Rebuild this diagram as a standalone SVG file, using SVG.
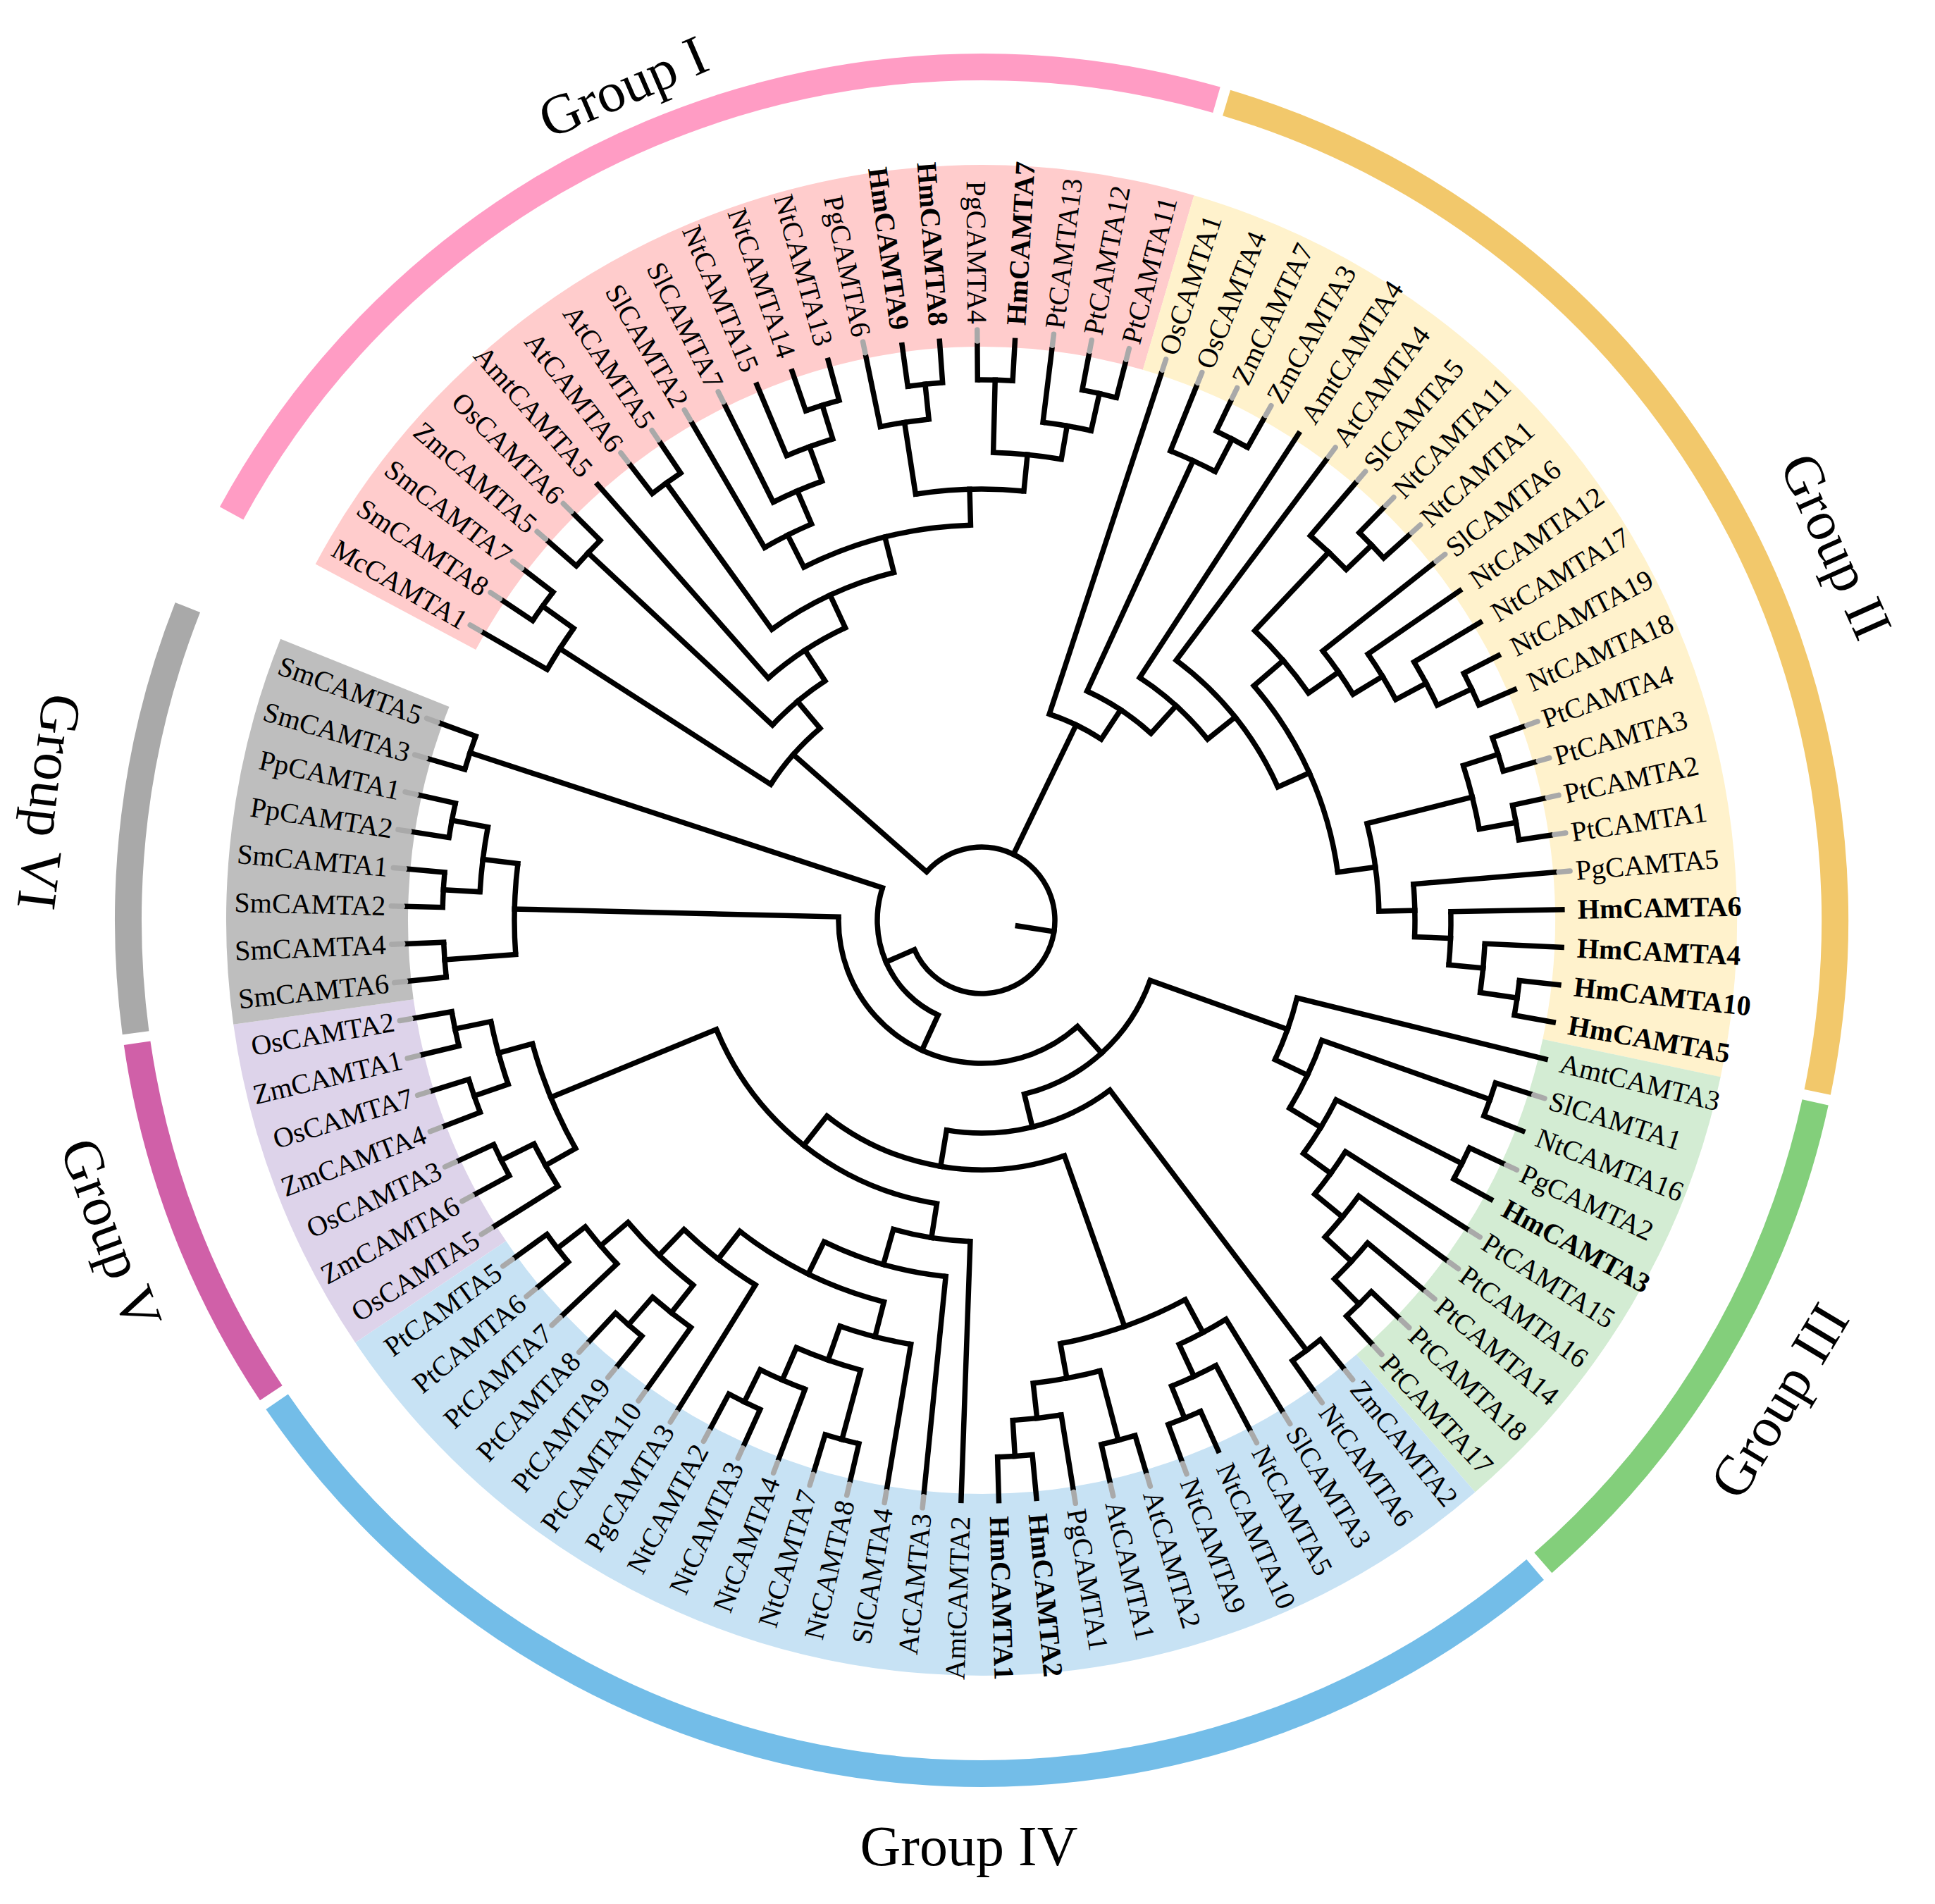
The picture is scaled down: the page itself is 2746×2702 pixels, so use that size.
<svg xmlns="http://www.w3.org/2000/svg" width="2746" height="2702" viewBox="0 0 2746 2702">
<style>
.b{stroke:#000;stroke-width:7.5;fill:none}
.b line{stroke-linecap:square}
.g line{stroke:#a9a9a9;stroke-width:7.5;stroke-linecap:round}
.rg{fill:none;stroke-width:258}
.ring{fill:none;stroke-width:38}
#labels text{font-family:"Liberation Serif","Times New Roman",serif;font-size:40px;dominant-baseline:central;fill:#000}
#labels .fl{text-anchor:end}
#labels .hm{font-weight:bold}
.grp{font-family:"Liberation Serif","Times New Roman",serif;font-size:80px;text-anchor:middle;dominant-baseline:central;fill:#000}
</style>
<rect width="2746" height="2702" fill="#fff"/>
<g id="ranges" transform="translate(1393,1306)">
<circle class="rg" r="943" pathLength="360" stroke="#ffcccc" stroke-dasharray="78.192 400" transform="rotate(208.138)"/>
<circle class="rg" r="943" pathLength="360" stroke="#fff2cc" stroke-dasharray="85.638 400" transform="rotate(286.330)"/>
<circle class="rg" r="943" pathLength="360" stroke="#d3ecd3" stroke-dasharray="37.234 400" transform="rotate(371.968)"/>
<circle class="rg" r="943" pathLength="360" stroke="#c7e2f4" stroke-dasharray="96.809 400" transform="rotate(409.202)"/>
<circle class="rg" r="943" pathLength="360" stroke="#ddd3ea" stroke-dasharray="26.064 400" transform="rotate(506.011)"/>
<circle class="rg" r="943" pathLength="360" stroke="#bebebe" stroke-dasharray="29.787 400" transform="rotate(532.075)"/>
</g>
<g id="group-rings" transform="translate(1393,1306)">
<circle class="ring" r="1211" pathLength="360" stroke="#ff9cc4" stroke-dasharray="77.492 400" transform="rotate(208.488)"/>
<circle class="ring" r="1211" pathLength="360" stroke="#f2c86b" stroke-dasharray="84.938 400" transform="rotate(286.680)"/>
<circle class="ring" r="1211" pathLength="360" stroke="#83cf7b" stroke-dasharray="36.534 400" transform="rotate(372.318)"/>
<circle class="ring" r="1211" pathLength="360" stroke="#73bde8" stroke-dasharray="96.109 400" transform="rotate(409.552)"/>
<circle class="ring" r="1211" pathLength="360" stroke="#d060a8" stroke-dasharray="25.364 400" transform="rotate(506.361)"/>
<circle class="ring" r="1211" pathLength="360" stroke="#a9a9a9" stroke-dasharray="29.087 400" transform="rotate(532.425)"/>
</g>
<g id="connectors" class="b" transform="translate(1393,1306)">
<circle r="104" pathLength="360" stroke-dasharray="295.032 400" transform="rotate(221.360)"/>
<circle r="148" pathLength="360" stroke-dasharray="83.493 400" transform="rotate(474.645)"/>
<circle r="203" pathLength="360" stroke-dasharray="133.477 400" transform="rotate(407.906)"/>
<circle r="254" pathLength="360" stroke-dasharray="56.575 400" transform="rotate(379.619)"/>
<circle r="302" pathLength="360" stroke-dasharray="46.535 400" transform="rotate(412.926)"/>
<circle r="354" pathLength="360" stroke-dasharray="57.698 400" transform="rotate(430.612)"/>
<circle r="407" pathLength="360" stroke-dasharray="58.672 400" transform="rotate(458.974)"/>
<circle r="456" pathLength="360" stroke-dasharray="13.906 400" transform="rotate(452.021)"/>
<circle r="508" pathLength="360" stroke-dasharray="20.363 400" transform="rotate(455.745)"/>
<circle r="559" pathLength="360" stroke-dasharray="23.505 400" transform="rotate(464.355)"/>
<circle r="610" pathLength="360" stroke-dasharray="9.774 400" transform="rotate(459.468)"/>
<circle r="661" pathLength="360" stroke-dasharray="8.378 400" transform="rotate(465.053)"/>
<circle r="763" pathLength="360" stroke-dasharray="3.724 400" transform="rotate(463.191)"/>
<circle r="711" pathLength="360" stroke-dasharray="5.586 400" transform="rotate(470.638)"/>
<circle r="762" pathLength="360" stroke-dasharray="3.723 400" transform="rotate(474.362)"/>
<circle r="609" pathLength="360" stroke-dasharray="12.101 400" transform="rotate(481.809)"/>
<circle r="660" pathLength="360" stroke-dasharray="11.170 400" transform="rotate(488.325)"/>
<circle r="710" pathLength="360" stroke-dasharray="5.585 400" transform="rotate(485.532)"/>
<circle r="762" pathLength="360" stroke-dasharray="3.724 400" transform="rotate(489.255)"/>
<circle r="711" pathLength="360" stroke-dasharray="5.586 400" transform="rotate(496.702)"/>
<circle r="761" pathLength="360" stroke-dasharray="3.723 400" transform="rotate(500.426)"/>
<circle r="661" pathLength="360" stroke-dasharray="13.963 400" transform="rotate(510.665)"/>
<circle r="710" pathLength="360" stroke-dasharray="5.585 400" transform="rotate(507.872)"/>
<circle r="762" pathLength="360" stroke-dasharray="3.723 400" transform="rotate(511.596)"/>
<circle r="711" pathLength="360" stroke-dasharray="7.447 400" transform="rotate(520.904)"/>
<circle r="762" pathLength="360" stroke-dasharray="3.723 400" transform="rotate(519.043)"/>
<circle r="763" pathLength="360" stroke-dasharray="3.724 400" transform="rotate(526.489)"/>
<circle r="611" pathLength="360" stroke-dasharray="17.686 400" transform="rotate(421.769)"/>
<circle r="664" pathLength="360" stroke-dasharray="6.516 400" transform="rotate(418.511)"/>
<circle r="714" pathLength="360" stroke-dasharray="5.585 400" transform="rotate(422.234)"/>
<circle r="763" pathLength="360" stroke-dasharray="3.724 400" transform="rotate(425.957)"/>
<circle r="661" pathLength="360" stroke-dasharray="8.378 400" transform="rotate(435.266)"/>
<circle r="763" pathLength="360" stroke-dasharray="3.724 400" transform="rotate(433.404)"/>
<circle r="711" pathLength="360" stroke-dasharray="5.585 400" transform="rotate(440.851)"/>
<circle r="762" pathLength="360" stroke-dasharray="3.724 400" transform="rotate(444.574)"/>
<circle r="765" pathLength="360" stroke-dasharray="3.723 400" transform="rotate(411.064)"/>
<circle r="461" pathLength="360" stroke-dasharray="11.578 400" transform="rotate(373.830)"/>
<circle r="512" pathLength="360" stroke-dasharray="11.985 400" transform="rotate(379.415)"/>
<circle r="765" pathLength="360" stroke-dasharray="3.724 400" transform="rotate(377.553)"/>
<circle r="564" pathLength="360" stroke-dasharray="9.076 400" transform="rotate(386.862)"/>
<circle r="764" pathLength="360" stroke-dasharray="3.723 400" transform="rotate(385.000)"/>
<circle r="612" pathLength="360" stroke-dasharray="6.981 400" transform="rotate(392.447)"/>
<circle r="663" pathLength="360" stroke-dasharray="6.516 400" transform="rotate(396.170)"/>
<circle r="714" pathLength="360" stroke-dasharray="5.585 400" transform="rotate(399.894)"/>
<circle r="764" pathLength="360" stroke-dasharray="3.723 400" transform="rotate(403.617)"/>
<circle r="663" pathLength="360" stroke-dasharray="11.170 400" transform="rotate(535.798)"/>
<circle r="764" pathLength="360" stroke-dasharray="3.724 400" transform="rotate(533.936)"/>
<circle r="713" pathLength="360" stroke-dasharray="7.446 400" transform="rotate(543.245)"/>
<circle r="765" pathLength="360" stroke-dasharray="3.723 400" transform="rotate(541.383)"/>
<circle r="765" pathLength="360" stroke-dasharray="3.723 400" transform="rotate(548.830)"/>
<circle r="764" pathLength="360" stroke-dasharray="3.723 400" transform="rotate(556.277)"/>
<circle r="356" pathLength="360" stroke-dasharray="17.133 400" transform="rotate(212.793)"/>
<circle r="712" pathLength="360" stroke-dasharray="5.585 400" transform="rotate(210.000)"/>
<circle r="766" pathLength="360" stroke-dasharray="3.724 400" transform="rotate(213.723)"/>
<circle r="406" pathLength="360" stroke-dasharray="13.788 400" transform="rotate(223.032)"/>
<circle r="764" pathLength="360" stroke-dasharray="3.724 400" transform="rotate(221.170)"/>
<circle r="458" pathLength="360" stroke-dasharray="16.407 400" transform="rotate(228.617)"/>
<circle r="509" pathLength="360" stroke-dasharray="21.643 400" transform="rotate(234.202)"/>
<circle r="765" pathLength="360" stroke-dasharray="3.724 400" transform="rotate(232.340)"/>
<circle r="561" pathLength="360" stroke-dasharray="25.133 400" transform="rotate(243.278)"/>
<circle r="612" pathLength="360" stroke-dasharray="6.982 400" transform="rotate(239.787)"/>
<circle r="663" pathLength="360" stroke-dasharray="6.516 400" transform="rotate(243.511)"/>
<circle r="715" pathLength="360" stroke-dasharray="5.585 400" transform="rotate(247.234)"/>
<circle r="765" pathLength="360" stroke-dasharray="3.724 400" transform="rotate(250.957)"/>
<circle r="612" pathLength="360" stroke-dasharray="14.428 400" transform="rotate(261.197)"/>
<circle r="715" pathLength="360" stroke-dasharray="5.586 400" transform="rotate(258.404)"/>
<circle r="765" pathLength="360" stroke-dasharray="3.723 400" transform="rotate(262.128)"/>
<circle r="664" pathLength="360" stroke-dasharray="8.378 400" transform="rotate(271.436)"/>
<circle r="767" pathLength="360" stroke-dasharray="3.724 400" transform="rotate(269.574)"/>
<circle r="712" pathLength="360" stroke-dasharray="5.586 400" transform="rotate(277.021)"/>
<circle r="766" pathLength="360" stroke-dasharray="3.723 400" transform="rotate(280.745)"/>
<circle r="308" pathLength="360" stroke-dasharray="15.258 400" transform="rotate(288.191)"/>
<circle r="358" pathLength="360" stroke-dasharray="17.483 400" transform="rotate(294.707)"/>
<circle r="718" pathLength="360" stroke-dasharray="5.585 400" transform="rotate(291.915)"/>
<circle r="770" pathLength="360" stroke-dasharray="3.724 400" transform="rotate(295.638)"/>
<circle r="411" pathLength="360" stroke-dasharray="18.210 400" transform="rotate(303.085)"/>
<circle r="461" pathLength="360" stroke-dasharray="28.972 400" transform="rotate(306.809)"/>
<circle r="510" pathLength="360" stroke-dasharray="33.045 400" transform="rotate(319.259)"/>
<circle r="565" pathLength="360" stroke-dasharray="11.868 400" transform="rotate(313.325)"/>
<circle r="718" pathLength="360" stroke-dasharray="5.585 400" transform="rotate(310.532)"/>
<circle r="768" pathLength="360" stroke-dasharray="3.724 400" transform="rotate(314.255)"/>
<circle r="617" pathLength="360" stroke-dasharray="6.982 400" transform="rotate(321.702)"/>
<circle r="666" pathLength="360" stroke-dasharray="6.516 400" transform="rotate(325.426)"/>
<circle r="715" pathLength="360" stroke-dasharray="5.585 400" transform="rotate(329.149)"/>
<circle r="769" pathLength="360" stroke-dasharray="3.724 400" transform="rotate(332.872)"/>
<circle r="564" pathLength="360" stroke-dasharray="12.799 400" transform="rotate(345.904)"/>
<circle r="718" pathLength="360" stroke-dasharray="7.447 400" transform="rotate(342.181)"/>
<circle r="770" pathLength="360" stroke-dasharray="3.724 400" transform="rotate(340.319)"/>
<circle r="771" pathLength="360" stroke-dasharray="3.723 400" transform="rotate(347.766)"/>
<circle r="615" pathLength="360" stroke-dasharray="6.981 400" transform="rotate(355.213)"/>
<circle r="666" pathLength="360" stroke-dasharray="6.516 400" transform="rotate(358.936)"/>
<circle r="715" pathLength="360" stroke-dasharray="5.585 400" transform="rotate(362.660)"/>
<circle r="768" pathLength="360" stroke-dasharray="3.723 400" transform="rotate(366.383)"/>
<line x1="52" x2="104" transform="rotate(368.876)"/>
<line x1="104" x2="356" transform="rotate(221.360)"/>
<line x1="104" x2="308" transform="rotate(295.820)"/>
<line x1="104" x2="148" transform="rotate(516.392)"/>
<line x1="148" x2="203" transform="rotate(474.645)"/>
<line x1="148" x2="764" transform="rotate(558.138)"/>
<line x1="203" x2="254" transform="rotate(407.906)"/>
<line x1="203" x2="663" transform="rotate(541.383)"/>
<line x1="254" x2="461" transform="rotate(379.619)"/>
<line x1="254" x2="302" transform="rotate(436.194)"/>
<line x1="302" x2="765" transform="rotate(412.926)"/>
<line x1="302" x2="354" transform="rotate(459.461)"/>
<line x1="354" x2="611" transform="rotate(430.612)"/>
<line x1="354" x2="407" transform="rotate(488.310)"/>
<line x1="407" x2="456" transform="rotate(458.974)"/>
<line x1="407" x2="661" transform="rotate(517.646)"/>
<line x1="456" x2="508" transform="rotate(465.927)"/>
<line x1="508" x2="559" transform="rotate(476.108)"/>
<line x1="559" x2="610" transform="rotate(464.355)"/>
<line x1="559" x2="609" transform="rotate(487.860)"/>
<line x1="610" x2="661" transform="rotate(469.242)"/>
<line x1="661" x2="763" transform="rotate(465.053)"/>
<line x1="661" x2="711" transform="rotate(473.431)"/>
<line x1="711" x2="762" transform="rotate(476.224)"/>
<line x1="609" x2="660" transform="rotate(493.910)"/>
<line x1="660" x2="710" transform="rotate(488.325)"/>
<line x1="660" x2="711" transform="rotate(499.495)"/>
<line x1="710" x2="762" transform="rotate(491.117)"/>
<line x1="711" x2="761" transform="rotate(502.288)"/>
<line x1="661" x2="710" transform="rotate(510.665)"/>
<line x1="661" x2="711" transform="rotate(524.628)"/>
<line x1="710" x2="762" transform="rotate(513.457)"/>
<line x1="711" x2="762" transform="rotate(520.904)"/>
<line x1="711" x2="763" transform="rotate(528.351)"/>
<line x1="611" x2="664" transform="rotate(421.769)"/>
<line x1="611" x2="661" transform="rotate(439.455)"/>
<line x1="664" x2="714" transform="rotate(425.027)"/>
<line x1="714" x2="763" transform="rotate(427.819)"/>
<line x1="661" x2="763" transform="rotate(435.266)"/>
<line x1="661" x2="711" transform="rotate(443.644)"/>
<line x1="711" x2="762" transform="rotate(446.436)"/>
<line x1="461" x2="512" transform="rotate(385.408)"/>
<line x1="512" x2="765" transform="rotate(379.415)"/>
<line x1="512" x2="564" transform="rotate(391.400)"/>
<line x1="564" x2="764" transform="rotate(386.862)"/>
<line x1="564" x2="612" transform="rotate(395.938)"/>
<line x1="612" x2="663" transform="rotate(399.428)"/>
<line x1="663" x2="714" transform="rotate(402.686)"/>
<line x1="714" x2="764" transform="rotate(405.479)"/>
<line x1="663" x2="764" transform="rotate(535.798)"/>
<line x1="663" x2="713" transform="rotate(546.968)"/>
<line x1="713" x2="765" transform="rotate(543.245)"/>
<line x1="713" x2="765" transform="rotate(550.691)"/>
<line x1="356" x2="712" transform="rotate(212.793)"/>
<line x1="356" x2="406" transform="rotate(229.926)"/>
<line x1="712" x2="766" transform="rotate(215.585)"/>
<line x1="406" x2="764" transform="rotate(223.032)"/>
<line x1="406" x2="458" transform="rotate(236.820)"/>
<line x1="458" x2="509" transform="rotate(245.024)"/>
<line x1="509" x2="765" transform="rotate(234.202)"/>
<line x1="509" x2="561" transform="rotate(255.845)"/>
<line x1="561" x2="612" transform="rotate(243.278)"/>
<line x1="561" x2="612" transform="rotate(268.411)"/>
<line x1="612" x2="663" transform="rotate(246.769)"/>
<line x1="663" x2="715" transform="rotate(250.027)"/>
<line x1="715" x2="765" transform="rotate(252.819)"/>
<line x1="612" x2="715" transform="rotate(261.197)"/>
<line x1="612" x2="664" transform="rotate(275.625)"/>
<line x1="715" x2="765" transform="rotate(263.990)"/>
<line x1="664" x2="767" transform="rotate(271.436)"/>
<line x1="664" x2="712" transform="rotate(279.814)"/>
<line x1="712" x2="766" transform="rotate(282.607)"/>
<line x1="308" x2="358" transform="rotate(303.449)"/>
<line x1="358" x2="718" transform="rotate(294.707)"/>
<line x1="358" x2="411" transform="rotate(312.190)"/>
<line x1="718" x2="770" transform="rotate(297.500)"/>
<line x1="411" x2="461" transform="rotate(321.295)"/>
<line x1="461" x2="510" transform="rotate(335.781)"/>
<line x1="510" x2="565" transform="rotate(319.259)"/>
<line x1="510" x2="564" transform="rotate(352.304)"/>
<line x1="565" x2="718" transform="rotate(313.325)"/>
<line x1="565" x2="617" transform="rotate(325.193)"/>
<line x1="718" x2="768" transform="rotate(316.117)"/>
<line x1="617" x2="666" transform="rotate(328.684)"/>
<line x1="666" x2="715" transform="rotate(331.942)"/>
<line x1="715" x2="769" transform="rotate(334.734)"/>
<line x1="564" x2="718" transform="rotate(345.904)"/>
<line x1="564" x2="615" transform="rotate(358.703)"/>
<line x1="718" x2="770" transform="rotate(342.181)"/>
<line x1="718" x2="771" transform="rotate(349.628)"/>
<line x1="615" x2="666" transform="rotate(362.194)"/>
<line x1="666" x2="715" transform="rotate(365.452)"/>
<line x1="715" x2="768" transform="rotate(368.245)"/>
<g id="leaf-branches">
<line x1="712" x2="816" transform="rotate(210.000)"/>
<line x1="766" x2="816" transform="rotate(213.723)"/>
<line x1="766" x2="816" transform="rotate(217.447)"/>
<line x1="764" x2="816" transform="rotate(221.170)"/>
<line x1="764" x2="816" transform="rotate(224.894)"/>
<line x1="458" x2="824" transform="rotate(228.617)"/>
<line x1="765" x2="816" transform="rotate(232.340)"/>
<line x1="765" x2="816" transform="rotate(236.064)"/>
<line x1="612" x2="816" transform="rotate(239.787)"/>
<line x1="663" x2="816" transform="rotate(243.511)"/>
<line x1="715" x2="824" transform="rotate(247.234)"/>
<line x1="765" x2="824" transform="rotate(250.957)"/>
<line x1="765" x2="824" transform="rotate(254.681)"/>
<line x1="715" x2="816" transform="rotate(258.404)"/>
<line x1="765" x2="824" transform="rotate(262.128)"/>
<line x1="765" x2="824" transform="rotate(265.851)"/>
<line x1="767" x2="816" transform="rotate(269.574)"/>
<line x1="767" x2="824" transform="rotate(273.298)"/>
<line x1="712" x2="816" transform="rotate(277.021)"/>
<line x1="766" x2="816" transform="rotate(280.745)"/>
<line x1="766" x2="816" transform="rotate(284.468)"/>
<line x1="308" x2="816" transform="rotate(288.191)"/>
<line x1="718" x2="816" transform="rotate(291.915)"/>
<line x1="770" x2="816" transform="rotate(295.638)"/>
<line x1="770" x2="816" transform="rotate(299.362)"/>
<line x1="411" x2="824" transform="rotate(303.085)"/>
<line x1="461" x2="816" transform="rotate(306.809)"/>
<line x1="718" x2="816" transform="rotate(310.532)"/>
<line x1="768" x2="816" transform="rotate(314.255)"/>
<line x1="768" x2="816" transform="rotate(317.979)"/>
<line x1="617" x2="816" transform="rotate(321.702)"/>
<line x1="666" x2="824" transform="rotate(325.426)"/>
<line x1="715" x2="824" transform="rotate(329.149)"/>
<line x1="769" x2="824" transform="rotate(332.872)"/>
<line x1="769" x2="824" transform="rotate(336.596)"/>
<line x1="770" x2="816" transform="rotate(340.319)"/>
<line x1="770" x2="816" transform="rotate(344.043)"/>
<line x1="771" x2="816" transform="rotate(347.766)"/>
<line x1="771" x2="816" transform="rotate(351.489)"/>
<line x1="615" x2="816" transform="rotate(355.213)"/>
<line x1="666" x2="824" transform="rotate(358.936)"/>
<line x1="715" x2="824" transform="rotate(362.660)"/>
<line x1="768" x2="824" transform="rotate(366.383)"/>
<line x1="768" x2="824" transform="rotate(370.106)"/>
<line x1="461" x2="824" transform="rotate(373.830)"/>
<line x1="765" x2="816" transform="rotate(377.553)"/>
<line x1="765" x2="824" transform="rotate(381.277)"/>
<line x1="764" x2="816" transform="rotate(385.000)"/>
<line x1="764" x2="824" transform="rotate(388.723)"/>
<line x1="612" x2="816" transform="rotate(392.447)"/>
<line x1="663" x2="816" transform="rotate(396.170)"/>
<line x1="714" x2="816" transform="rotate(399.894)"/>
<line x1="764" x2="816" transform="rotate(403.617)"/>
<line x1="764" x2="816" transform="rotate(407.340)"/>
<line x1="765" x2="816" transform="rotate(411.064)"/>
<line x1="765" x2="816" transform="rotate(414.787)"/>
<line x1="664" x2="816" transform="rotate(418.511)"/>
<line x1="714" x2="816" transform="rotate(422.234)"/>
<line x1="763" x2="824" transform="rotate(425.957)"/>
<line x1="763" x2="816" transform="rotate(429.681)"/>
<line x1="763" x2="816" transform="rotate(433.404)"/>
<line x1="763" x2="816" transform="rotate(437.128)"/>
<line x1="711" x2="816" transform="rotate(440.851)"/>
<line x1="762" x2="824" transform="rotate(444.574)"/>
<line x1="762" x2="824" transform="rotate(448.298)"/>
<line x1="456" x2="824" transform="rotate(452.021)"/>
<line x1="508" x2="816" transform="rotate(455.745)"/>
<line x1="610" x2="816" transform="rotate(459.468)"/>
<line x1="763" x2="816" transform="rotate(463.191)"/>
<line x1="763" x2="816" transform="rotate(466.915)"/>
<line x1="711" x2="816" transform="rotate(470.638)"/>
<line x1="762" x2="816" transform="rotate(474.362)"/>
<line x1="762" x2="816" transform="rotate(478.085)"/>
<line x1="609" x2="816" transform="rotate(481.809)"/>
<line x1="710" x2="816" transform="rotate(485.532)"/>
<line x1="762" x2="816" transform="rotate(489.255)"/>
<line x1="762" x2="816" transform="rotate(492.979)"/>
<line x1="711" x2="816" transform="rotate(496.702)"/>
<line x1="761" x2="816" transform="rotate(500.426)"/>
<line x1="761" x2="816" transform="rotate(504.149)"/>
<line x1="710" x2="816" transform="rotate(507.872)"/>
<line x1="762" x2="816" transform="rotate(511.596)"/>
<line x1="762" x2="816" transform="rotate(515.319)"/>
<line x1="762" x2="816" transform="rotate(519.043)"/>
<line x1="762" x2="816" transform="rotate(522.766)"/>
<line x1="763" x2="816" transform="rotate(526.489)"/>
<line x1="763" x2="816" transform="rotate(530.213)"/>
<line x1="764" x2="816" transform="rotate(533.936)"/>
<line x1="764" x2="816" transform="rotate(537.660)"/>
<line x1="765" x2="816" transform="rotate(541.383)"/>
<line x1="765" x2="816" transform="rotate(545.106)"/>
<line x1="765" x2="816" transform="rotate(548.830)"/>
<line x1="765" x2="816" transform="rotate(552.553)"/>
<line x1="764" x2="816" transform="rotate(556.277)"/>
<line x1="764" x2="816" transform="rotate(560.000)"/>
</g>
<g class="g" id="label-leaders">
<line x1="822" x2="838" transform="rotate(210.000)"/>
<line x1="822" x2="838" transform="rotate(213.723)"/>
<line x1="822" x2="838" transform="rotate(217.447)"/>
<line x1="822" x2="838" transform="rotate(221.170)"/>
<line x1="822" x2="838" transform="rotate(224.894)"/>
<line x1="822" x2="838" transform="rotate(232.340)"/>
<line x1="822" x2="838" transform="rotate(236.064)"/>
<line x1="822" x2="838" transform="rotate(239.787)"/>
<line x1="822" x2="838" transform="rotate(243.511)"/>
<line x1="822" x2="838" transform="rotate(258.404)"/>
<line x1="822" x2="838" transform="rotate(269.574)"/>
<line x1="822" x2="838" transform="rotate(277.021)"/>
<line x1="822" x2="838" transform="rotate(280.745)"/>
<line x1="822" x2="838" transform="rotate(284.468)"/>
<line x1="822" x2="838" transform="rotate(288.191)"/>
<line x1="822" x2="838" transform="rotate(291.915)"/>
<line x1="822" x2="838" transform="rotate(295.638)"/>
<line x1="822" x2="838" transform="rotate(299.362)"/>
<line x1="822" x2="838" transform="rotate(306.809)"/>
<line x1="822" x2="838" transform="rotate(310.532)"/>
<line x1="822" x2="838" transform="rotate(314.255)"/>
<line x1="822" x2="838" transform="rotate(317.979)"/>
<line x1="822" x2="838" transform="rotate(321.702)"/>
<line x1="822" x2="838" transform="rotate(340.319)"/>
<line x1="822" x2="838" transform="rotate(344.043)"/>
<line x1="822" x2="838" transform="rotate(347.766)"/>
<line x1="822" x2="838" transform="rotate(351.489)"/>
<line x1="822" x2="838" transform="rotate(355.213)"/>
<line x1="822" x2="838" transform="rotate(377.553)"/>
<line x1="822" x2="838" transform="rotate(385.000)"/>
<line x1="822" x2="838" transform="rotate(392.447)"/>
<line x1="822" x2="838" transform="rotate(396.170)"/>
<line x1="822" x2="838" transform="rotate(399.894)"/>
<line x1="822" x2="838" transform="rotate(403.617)"/>
<line x1="822" x2="838" transform="rotate(407.340)"/>
<line x1="822" x2="838" transform="rotate(411.064)"/>
<line x1="822" x2="838" transform="rotate(414.787)"/>
<line x1="822" x2="838" transform="rotate(418.511)"/>
<line x1="822" x2="838" transform="rotate(422.234)"/>
<line x1="822" x2="838" transform="rotate(429.681)"/>
<line x1="822" x2="838" transform="rotate(433.404)"/>
<line x1="822" x2="838" transform="rotate(437.128)"/>
<line x1="822" x2="838" transform="rotate(440.851)"/>
<line x1="822" x2="838" transform="rotate(455.745)"/>
<line x1="822" x2="838" transform="rotate(459.468)"/>
<line x1="822" x2="838" transform="rotate(463.191)"/>
<line x1="822" x2="838" transform="rotate(466.915)"/>
<line x1="822" x2="838" transform="rotate(470.638)"/>
<line x1="822" x2="838" transform="rotate(474.362)"/>
<line x1="822" x2="838" transform="rotate(478.085)"/>
<line x1="822" x2="838" transform="rotate(481.809)"/>
<line x1="822" x2="838" transform="rotate(485.532)"/>
<line x1="822" x2="838" transform="rotate(489.255)"/>
<line x1="822" x2="838" transform="rotate(492.979)"/>
<line x1="822" x2="838" transform="rotate(496.702)"/>
<line x1="822" x2="838" transform="rotate(500.426)"/>
<line x1="822" x2="838" transform="rotate(504.149)"/>
<line x1="822" x2="838" transform="rotate(507.872)"/>
<line x1="822" x2="838" transform="rotate(511.596)"/>
<line x1="822" x2="838" transform="rotate(515.319)"/>
<line x1="822" x2="838" transform="rotate(519.043)"/>
<line x1="822" x2="838" transform="rotate(522.766)"/>
<line x1="822" x2="838" transform="rotate(526.489)"/>
<line x1="822" x2="838" transform="rotate(530.213)"/>
<line x1="822" x2="838" transform="rotate(533.936)"/>
<line x1="822" x2="838" transform="rotate(537.660)"/>
<line x1="822" x2="838" transform="rotate(541.383)"/>
<line x1="822" x2="838" transform="rotate(545.106)"/>
<line x1="822" x2="838" transform="rotate(548.830)"/>
<line x1="822" x2="838" transform="rotate(552.553)"/>
<line x1="822" x2="838" transform="rotate(556.277)"/>
<line x1="822" x2="838" transform="rotate(560.000)"/>
</g>
</g>
<g id="labels" transform="translate(1393,1306)">
<g id="McCAMTA1" transform="rotate(210.000)"><text class="fl" x="-846" transform="rotate(180)">McCAMTA1</text></g>
<g id="SmCAMTA8" transform="rotate(213.723)"><text class="fl" x="-846" transform="rotate(180)">SmCAMTA8</text></g>
<g id="SmCAMTA7" transform="rotate(217.447)"><text class="fl" x="-846" transform="rotate(180)">SmCAMTA7</text></g>
<g id="ZmCAMTA5" transform="rotate(221.170)"><text class="fl" x="-846" transform="rotate(180)">ZmCAMTA5</text></g>
<g id="OsCAMTA6" transform="rotate(224.894)"><text class="fl" x="-846" transform="rotate(180)">OsCAMTA6</text></g>
<g id="AmtCAMTA5" transform="rotate(228.617)"><text class="fl" x="-846" transform="rotate(180)">AmtCAMTA5</text></g>
<g id="AtCAMTA6" transform="rotate(232.340)"><text class="fl" x="-846" transform="rotate(180)">AtCAMTA6</text></g>
<g id="AtCAMTA5" transform="rotate(236.064)"><text class="fl" x="-846" transform="rotate(180)">AtCAMTA5</text></g>
<g id="SlCAMTA2" transform="rotate(239.787)"><text class="fl" x="-846" transform="rotate(180)">SlCAMTA2</text></g>
<g id="SlCAMTA7" transform="rotate(243.511)"><text class="fl" x="-846" transform="rotate(180)">SlCAMTA7</text></g>
<g id="NtCAMTA15" transform="rotate(247.234)"><text class="fl" x="-846" transform="rotate(180)">NtCAMTA15</text></g>
<g id="NtCAMTA14" transform="rotate(250.957)"><text class="fl" x="-846" transform="rotate(180)">NtCAMTA14</text></g>
<g id="NtCAMTA13" transform="rotate(254.681)"><text class="fl" x="-846" transform="rotate(180)">NtCAMTA13</text></g>
<g id="PgCAMTA6" transform="rotate(258.404)"><text class="fl" x="-846" transform="rotate(180)">PgCAMTA6</text></g>
<g id="HmCAMTA9" transform="rotate(262.128)"><text class="fl hm" x="-846" transform="rotate(180)">HmCAMTA9</text></g>
<g id="HmCAMTA8" transform="rotate(265.851)"><text class="fl hm" x="-846" transform="rotate(180)">HmCAMTA8</text></g>
<g id="PgCAMTA4" transform="rotate(269.574)"><text class="fl" x="-846" transform="rotate(180)">PgCAMTA4</text></g>
<g id="HmCAMTA7" transform="rotate(273.298)"><text class="hm" x="846">HmCAMTA7</text></g>
<g id="PtCAMTA13" transform="rotate(277.021)"><text x="846">PtCAMTA13</text></g>
<g id="PtCAMTA12" transform="rotate(280.745)"><text x="846">PtCAMTA12</text></g>
<g id="PtCAMTA11" transform="rotate(284.468)"><text x="846">PtCAMTA11</text></g>
<g id="OsCAMTA1" transform="rotate(288.191)"><text x="846">OsCAMTA1</text></g>
<g id="OsCAMTA4" transform="rotate(291.915)"><text x="846">OsCAMTA4</text></g>
<g id="ZmCAMTA7" transform="rotate(295.638)"><text x="846">ZmCAMTA7</text></g>
<g id="ZmCAMTA3" transform="rotate(299.362)"><text x="846">ZmCAMTA3</text></g>
<g id="AmtCAMTA4" transform="rotate(303.085)"><text x="846">AmtCAMTA4</text></g>
<g id="AtCAMTA4" transform="rotate(306.809)"><text x="846">AtCAMTA4</text></g>
<g id="SlCAMTA5" transform="rotate(310.532)"><text x="846">SlCAMTA5</text></g>
<g id="NtCAMTA11" transform="rotate(314.255)"><text x="846">NtCAMTA11</text></g>
<g id="NtCAMTA1" transform="rotate(317.979)"><text x="846">NtCAMTA1</text></g>
<g id="SlCAMTA6" transform="rotate(321.702)"><text x="846">SlCAMTA6</text></g>
<g id="NtCAMTA12" transform="rotate(325.426)"><text x="846">NtCAMTA12</text></g>
<g id="NtCAMTA17" transform="rotate(329.149)"><text x="846">NtCAMTA17</text></g>
<g id="NtCAMTA19" transform="rotate(332.872)"><text x="846">NtCAMTA19</text></g>
<g id="NtCAMTA18" transform="rotate(336.596)"><text x="846">NtCAMTA18</text></g>
<g id="PtCAMTA4" transform="rotate(340.319)"><text x="846">PtCAMTA4</text></g>
<g id="PtCAMTA3" transform="rotate(344.043)"><text x="846">PtCAMTA3</text></g>
<g id="PtCAMTA2" transform="rotate(347.766)"><text x="846">PtCAMTA2</text></g>
<g id="PtCAMTA1" transform="rotate(351.489)"><text x="846">PtCAMTA1</text></g>
<g id="PgCAMTA5" transform="rotate(355.213)"><text x="846">PgCAMTA5</text></g>
<g id="HmCAMTA6" transform="rotate(358.936)"><text class="hm" x="846">HmCAMTA6</text></g>
<g id="HmCAMTA4" transform="rotate(362.660)"><text class="hm" x="846">HmCAMTA4</text></g>
<g id="HmCAMTA10" transform="rotate(366.383)"><text class="hm" x="846">HmCAMTA10</text></g>
<g id="HmCAMTA5" transform="rotate(370.106)"><text class="hm" x="846">HmCAMTA5</text></g>
<g id="AmtCAMTA3" transform="rotate(373.830)"><text x="846">AmtCAMTA3</text></g>
<g id="SlCAMTA1" transform="rotate(377.553)"><text x="846">SlCAMTA1</text></g>
<g id="NtCAMTA16" transform="rotate(381.277)"><text x="846">NtCAMTA16</text></g>
<g id="PgCAMTA2" transform="rotate(385.000)"><text x="846">PgCAMTA2</text></g>
<g id="HmCAMTA3" transform="rotate(388.723)"><text class="hm" x="846">HmCAMTA3</text></g>
<g id="PtCAMTA15" transform="rotate(392.447)"><text x="846">PtCAMTA15</text></g>
<g id="PtCAMTA16" transform="rotate(396.170)"><text x="846">PtCAMTA16</text></g>
<g id="PtCAMTA14" transform="rotate(399.894)"><text x="846">PtCAMTA14</text></g>
<g id="PtCAMTA18" transform="rotate(403.617)"><text x="846">PtCAMTA18</text></g>
<g id="PtCAMTA17" transform="rotate(407.340)"><text x="846">PtCAMTA17</text></g>
<g id="ZmCAMTA2" transform="rotate(411.064)"><text x="846">ZmCAMTA2</text></g>
<g id="NtCAMTA6" transform="rotate(414.787)"><text x="846">NtCAMTA6</text></g>
<g id="SlCAMTA3" transform="rotate(418.511)"><text x="846">SlCAMTA3</text></g>
<g id="NtCAMTA5" transform="rotate(422.234)"><text x="846">NtCAMTA5</text></g>
<g id="NtCAMTA10" transform="rotate(425.957)"><text x="846">NtCAMTA10</text></g>
<g id="NtCAMTA9" transform="rotate(429.681)"><text x="846">NtCAMTA9</text></g>
<g id="AtCAMTA2" transform="rotate(433.404)"><text x="846">AtCAMTA2</text></g>
<g id="AtCAMTA1" transform="rotate(437.128)"><text x="846">AtCAMTA1</text></g>
<g id="PgCAMTA1" transform="rotate(440.851)"><text x="846">PgCAMTA1</text></g>
<g id="HmCAMTA2" transform="rotate(444.574)"><text class="hm" x="846">HmCAMTA2</text></g>
<g id="HmCAMTA1" transform="rotate(448.298)"><text class="hm" x="846">HmCAMTA1</text></g>
<g id="AmtCAMTA2" transform="rotate(452.021)"><text class="fl" x="-846" transform="rotate(180)">AmtCAMTA2</text></g>
<g id="AtCAMTA3" transform="rotate(455.745)"><text class="fl" x="-846" transform="rotate(180)">AtCAMTA3</text></g>
<g id="SlCAMTA4" transform="rotate(459.468)"><text class="fl" x="-846" transform="rotate(180)">SlCAMTA4</text></g>
<g id="NtCAMTA8" transform="rotate(463.191)"><text class="fl" x="-846" transform="rotate(180)">NtCAMTA8</text></g>
<g id="NtCAMTA7" transform="rotate(466.915)"><text class="fl" x="-846" transform="rotate(180)">NtCAMTA7</text></g>
<g id="NtCAMTA4" transform="rotate(470.638)"><text class="fl" x="-846" transform="rotate(180)">NtCAMTA4</text></g>
<g id="NtCAMTA3" transform="rotate(474.362)"><text class="fl" x="-846" transform="rotate(180)">NtCAMTA3</text></g>
<g id="NtCAMTA2" transform="rotate(478.085)"><text class="fl" x="-846" transform="rotate(180)">NtCAMTA2</text></g>
<g id="PgCAMTA3" transform="rotate(481.809)"><text class="fl" x="-846" transform="rotate(180)">PgCAMTA3</text></g>
<g id="PtCAMTA10" transform="rotate(485.532)"><text class="fl" x="-846" transform="rotate(180)">PtCAMTA10</text></g>
<g id="PtCAMTA9" transform="rotate(489.255)"><text class="fl" x="-846" transform="rotate(180)">PtCAMTA9</text></g>
<g id="PtCAMTA8" transform="rotate(492.979)"><text class="fl" x="-846" transform="rotate(180)">PtCAMTA8</text></g>
<g id="PtCAMTA7" transform="rotate(496.702)"><text class="fl" x="-846" transform="rotate(180)">PtCAMTA7</text></g>
<g id="PtCAMTA6" transform="rotate(500.426)"><text class="fl" x="-846" transform="rotate(180)">PtCAMTA6</text></g>
<g id="PtCAMTA5" transform="rotate(504.149)"><text class="fl" x="-846" transform="rotate(180)">PtCAMTA5</text></g>
<g id="OsCAMTA5" transform="rotate(507.872)"><text class="fl" x="-846" transform="rotate(180)">OsCAMTA5</text></g>
<g id="ZmCAMTA6" transform="rotate(511.596)"><text class="fl" x="-846" transform="rotate(180)">ZmCAMTA6</text></g>
<g id="OsCAMTA3" transform="rotate(515.319)"><text class="fl" x="-846" transform="rotate(180)">OsCAMTA3</text></g>
<g id="ZmCAMTA4" transform="rotate(519.043)"><text class="fl" x="-846" transform="rotate(180)">ZmCAMTA4</text></g>
<g id="OsCAMTA7" transform="rotate(522.766)"><text class="fl" x="-846" transform="rotate(180)">OsCAMTA7</text></g>
<g id="ZmCAMTA1" transform="rotate(526.489)"><text class="fl" x="-846" transform="rotate(180)">ZmCAMTA1</text></g>
<g id="OsCAMTA2" transform="rotate(530.213)"><text class="fl" x="-846" transform="rotate(180)">OsCAMTA2</text></g>
<g id="SmCAMTA6" transform="rotate(533.936)"><text class="fl" x="-846" transform="rotate(180)">SmCAMTA6</text></g>
<g id="SmCAMTA4" transform="rotate(537.660)"><text class="fl" x="-846" transform="rotate(180)">SmCAMTA4</text></g>
<g id="SmCAMTA2" transform="rotate(541.383)"><text class="fl" x="-846" transform="rotate(180)">SmCAMTA2</text></g>
<g id="SmCAMTA1" transform="rotate(545.106)"><text class="fl" x="-846" transform="rotate(180)">SmCAMTA1</text></g>
<g id="PpCAMTA2" transform="rotate(548.830)"><text class="fl" x="-846" transform="rotate(180)">PpCAMTA2</text></g>
<g id="PpCAMTA1" transform="rotate(552.553)"><text class="fl" x="-846" transform="rotate(180)">PpCAMTA1</text></g>
<g id="SmCAMTA3" transform="rotate(556.277)"><text class="fl" x="-846" transform="rotate(180)">SmCAMTA3</text></g>
<g id="SmCAMTA5" transform="rotate(560.000)"><text class="fl" x="-846" transform="rotate(180)">SmCAMTA5</text></g>
</g>
<g id="group-labels">
<text class="grp" transform="translate(884,123) rotate(-23.3)">Group I</text>
<text class="grp" transform="translate(2606,775) rotate(66)">Group II</text>
<text class="grp" transform="translate(2525,1988) rotate(-59)">Group III</text>
<text class="grp" transform="translate(1375,2620)">Group IV</text>
<text class="grp" transform="translate(158,1751) rotate(70)">Group V</text>
<text class="grp" transform="translate(70,1138) rotate(97)">Group VI</text>
</g>
</svg>
